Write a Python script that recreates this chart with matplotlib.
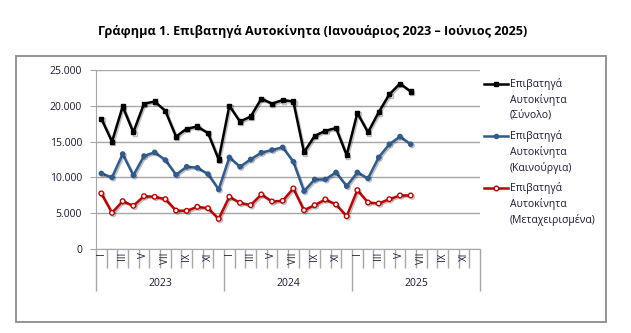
import matplotlib
matplotlib.use("Agg")
import matplotlib.pyplot as plt
import matplotlib.patheffects as pe
from matplotlib.lines import Line2D
from matplotlib.patches import Rectangle
import numpy as np

plt.rcParams['font.family'] = ['Open Sans', 'Noto Sans', 'DejaVu Sans']

# monthly values, Jan 2023 .. Jun 2025
total = [18200, 15000, 19900, 16300, 20300, 20600, 19300, 15700, 16800, 17100, 16200, 12500,
         20000, 17800, 18500, 21000, 20300, 20800, 20600, 13500, 15800, 16500, 16900, 13100,
         19000, 16300, 19100, 21600, 23100, 22000]
new = [10560, 10000, 13270, 10280, 12990, 13500, 12430, 10370, 11490, 11350, 10470, 8320,
       12800, 11490, 12520, 13460, 13830, 14200, 12200, 8080, 9720, 9720, 10700, 8780,
       10700, 9860, 12800, 14630, 15700, 14630]
used = [7760, 5050, 6680, 6030, 7380, 7290, 6960, 5370, 5330, 5890, 5700, 4210,
        7290, 6450, 6120, 7620, 6640, 6730, 8460, 5420, 6120, 6920, 6220, 4580,
        8220, 6500, 6360, 6960, 7480, 7480]

years = ['2023', '2024', '2025']
month_labels = ['I', '', 'III', '', 'V', '', 'VII', '', 'IX', '', 'XI', '']
series_names = ['Επιβατηγά\nΑυτοκίνητα\n(Σύνολο)',
                'Επιβατηγά\nΑυτοκίνητα\n(Καινούργια)',
                'Επιβατηγά\nΑυτοκίνητα\n(Μεταχειρισμένα)']

W, H = 631, 333
fig = plt.figure(figsize=(W / 100, H / 100), dpi=100)

def fx(px):
    return px / W

def fy(py):
    return 1 - py / H

# outer chart border
fig.add_artist(Rectangle((fx(16), fy(322)), fx(606) - fx(16), fy(56) - fy(322),
                         transform=fig.transFigure, fill=False, ec='#8c8c8c', lw=1.3))

fig.text(fx(313), fy(32), 'Γράφημα 1. Επιβατηγά Αυτοκίνητα (Ιανουάριος 2023 – Ιούνιος 2025)',
         ha='center', va='center', fontsize=9.1, fontweight='bold', color='black')

ax = fig.add_axes([fx(96), fy(249), fx(480) - fx(96), fy(70) - fy(249)])

ncat = 12 * len(years)
x = np.arange(len(total))
shadow = [pe.SimpleLineShadow(offset=(1, -1), alpha=0.25), pe.Normal()]

ax.plot(x, total, color='black', lw=1.8, marker='s', ms=3.0, mfc='black', mec='black',
        path_effects=shadow, zorder=4)
ax.plot(x, new, color='#2f5b8e', lw=1.8, marker='o', ms=3.0, mfc='#2f5b8e', mec='#2f5b8e',
        path_effects=shadow, zorder=4)
ax.plot(x, used, color='#c00000', lw=1.8, marker='o', ms=3.3, mfc='white', mec='#c00000',
        mew=1.0, path_effects=shadow, zorder=4)

ax.set_xlim(-0.5, ncat - 0.5)
ax.set_ylim(0, 25000)
ax.set_yticks(np.arange(0, 25001, 5000))
ax.set_yticklabels(['{:,}'.format(v).replace(',', '.') for v in range(0, 25001, 5000)],
                   fontsize=7.5, color='#1a1a3a')
ax.yaxis.grid(True, color='#a6a6a6', lw=1.0)
ax.set_axisbelow(True)
for s in ['top', 'right']:
    ax.spines[s].set_visible(False)
ax.spines['left'].set_color('#a6a6a6')
ax.spines['bottom'].set_color('#a6a6a6')
ax.tick_params(axis='y', length=4, color='#a6a6a6', pad=6)

# category separators as minor ticks, year separators as major ticks
ax.set_xticks(np.arange(-0.5, ncat + 0.5, 12))
ax.set_xticklabels([])
ax.set_xticks(np.arange(-0.5, ncat + 0.5, 1), minor=True)
ax.tick_params(axis='x', which='major', length=30, color='#a6a6a6', width=1.0)
ax.tick_params(axis='x', which='minor', length=14, color='#a6a6a6', width=1.0)

trans = ax.get_xaxis_transform()
for i in range(ncat):
    lab = month_labels[i % 12]
    if lab:
        ax.text(i, -0.018, lab, transform=trans, rotation=90, ha='center', va='top',
                fontsize=7, color='#1a1a3a')
for k, yr in enumerate(years):
    ax.text(12 * k + 5.5, -0.19, yr, transform=trans, ha='center', va='center',
            fontsize=7.5, color='#1a1a3a')

# legend
leg_y = [84, 136, 188]
colors = ['black', '#2f5b8e', '#c00000']
markers = [dict(marker='s', mfc='black', mec='black', ms=3.0),
           dict(marker='o', mfc='#2f5b8e', mec='#2f5b8e', ms=3.0),
           dict(marker='o', mfc='white', mec='#c00000', ms=3.3)]
for yy, c, mk, name in zip(leg_y, colors, markers, series_names):
    fig.add_artist(Line2D([fx(484), fx(508)], [fy(yy), fy(yy)], lw=1.8, color=c,
                          transform=fig.transFigure))
    fig.add_artist(Line2D([fx(496)], [fy(yy)], lw=0, transform=fig.transFigure, **mk))
    fig.text(fx(510), fy(yy - 6), name, ha='left', va='top', fontsize=7.5,
             color='#1a1a3a', linespacing=1.45)

fig.savefig('out.png', dpi=100)
